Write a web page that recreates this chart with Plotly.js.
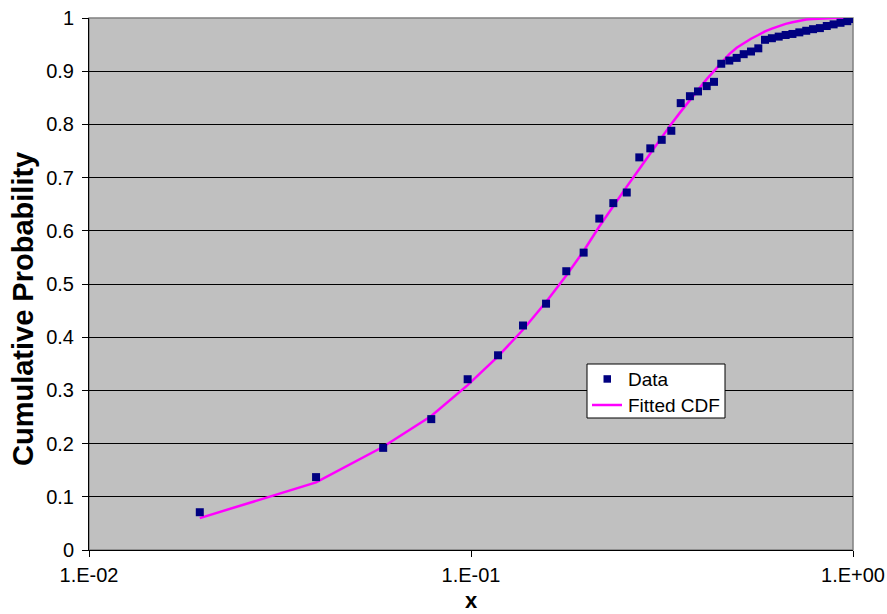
<!DOCTYPE html>
<html>
<head>
<meta charset="utf-8">
<script src="https://cdn.plot.ly/plotly-3.0.1.min.js"></script>
<style>
  html, body { margin: 0; padding: 0; background: #fff; }
  #chart { width: 887px; height: 614px; }
</style>
</head>
<body>
<div id="chart"></div>
<script>
// Sample values (x) with their empirical cumulative probabilities
const xValues = [
  0.0195, 0.0393, 0.0589, 0.0787, 0.0980, 0.1177, 0.1368, 0.1572, 0.1776, 0.1972,
  0.2167, 0.2358, 0.2557, 0.2758, 0.2947, 0.3157, 0.3345, 0.3540, 0.3742, 0.3929,
  0.4140, 0.4326, 0.4520, 0.4744, 0.4960, 0.5174, 0.5408, 0.5651, 0.5883, 0.6133,
  0.6390, 0.6663, 0.6942, 0.7236, 0.7544, 0.7860, 0.8191, 0.8538, 0.8897, 0.9275,
  0.9663, 1.0000
];
const dataProb = [
  0.071, 0.137, 0.192, 0.246, 0.321, 0.366, 0.422, 0.463, 0.524, 0.559,
  0.623, 0.652, 0.672, 0.738, 0.755, 0.771, 0.788, 0.840, 0.853, 0.862,
  0.872, 0.880, 0.914, 0.920, 0.925, 0.932, 0.937, 0.943, 0.959, 0.962,
  0.965, 0.968, 0.970, 0.973, 0.976, 0.979, 0.981, 0.985, 0.988, 0.991,
  0.994, 0.998
];
// Fitted distribution evaluated at the same x values
const fittedProb = [
  0.060, 0.127, 0.194, 0.252, 0.310, 0.364, 0.414, 0.466, 0.516, 0.562,
  0.608, 0.647, 0.683, 0.716, 0.746, 0.776, 0.801, 0.824, 0.846, 0.866,
  0.885, 0.900, 0.915, 0.932, 0.944, 0.953, 0.961, 0.968, 0.975, 0.980,
  0.985, 0.989, 0.992, 0.995, 0.997, 0.998, 0.999, 0.9995, 1.000, 1.000,
  1.000, 1.000
];
const yTickVals = [0, 0.1, 0.2, 0.3, 0.4, 0.5, 0.6, 0.7, 0.8, 0.9, 1];
const yTickText = ["0", "0.1", "0.2", "0.3", "0.4", "0.5", "0.6", "0.7", "0.8", "0.9", "1"];
const xTickVals = [0.01, 0.1, 1];
const xTickText = ["1.E-02", "1.E-01", "1.E+00"];
const seriesNames = ["Data", "Fitted CDF"];

const FONT = "Liberation Sans, Arial, sans-serif";
const W = 887, H = 614;
const M = { l: 89, r: 34, t: 18, b: 64 };
const plotW = W - M.l - M.r, plotH = H - M.t - M.b;
// pixel -> paper helpers for the legend box and the axis titles
const px = v => (v - M.l) / plotW;
const py = v => (H - M.b - v) / plotH;

const MARKER_COLOR = "#000080";
const LINE_COLOR = "#FF00FF";

const traces = [
  {
    x: xValues, y: fittedProb, type: "scatter", mode: "lines",
    name: seriesNames[1], showlegend: false,
    line: { color: LINE_COLOR, width: 2.5 }
  },
  {
    x: xValues, y: dataProb, type: "scatter", mode: "markers",
    name: seriesNames[0], showlegend: false,
    marker: { symbol: "square", size: 8, color: MARKER_COLOR, line: { width: 0 } }
  }
];

// Legend box drawn in paper space
const legendBox = { x0: 587, y0: 364, x1: 725, y1: 418 };
const shapes = [
  {
    type: "rect", xref: "paper", yref: "paper", x0: 0, x1: 1, y0: 0, y1: 1,
    line: { color: "#808080", width: 1.5 }, layer: "below"
  },
  {
    type: "rect", xref: "paper", yref: "paper",
    x0: px(legendBox.x0), x1: px(legendBox.x1), y0: py(legendBox.y1), y1: py(legendBox.y0),
    fillcolor: "#FFFFFF", line: { color: "#000", width: 1 }, layer: "above"
  },
  {
    type: "rect", xref: "paper", yref: "paper",
    x0: px(603.5), x1: px(611), y0: py(382.7), y1: py(375.2),
    fillcolor: MARKER_COLOR, line: { width: 0 }, layer: "above"
  },
  {
    type: "line", xref: "paper", yref: "paper",
    x0: px(592), x1: px(622), y0: py(405), y1: py(405),
    line: { color: LINE_COLOR, width: 2.5 }, layer: "above"
  }
];

const annotations = [
  {
    xref: "paper", yref: "paper", x: px(626), y: py(379), xanchor: "left", yanchor: "middle",
    text: seriesNames[0], showarrow: false, font: { family: FONT, size: 19, color: "#000" }
  },
  {
    xref: "paper", yref: "paper", x: px(626), y: py(405), xanchor: "left", yanchor: "middle",
    text: seriesNames[1], showarrow: false, font: { family: FONT, size: 19, color: "#000" }
  },
  {
    xref: "paper", yref: "paper", x: px(23), y: py(309), xanchor: "center", yanchor: "middle",
    textangle: -90, text: "<b>Cumulative Probability</b>", showarrow: false,
    font: { family: FONT, size: 29, color: "#000" }
  },
  {
    xref: "paper", yref: "paper", x: px(471), y: py(614), xanchor: "center", yanchor: "bottom",
    text: "<b>x</b>", showarrow: false, borderpad: 0,
    font: { family: FONT, size: 22, color: "#000" }
  }
];

const layout = {
  width: W, height: H,
  margin: { l: M.l, r: M.r, t: M.t, b: M.b, pad: 0 },
  paper_bgcolor: "#FFFFFF",
  plot_bgcolor: "#C0C0C0",
  font: { family: FONT, size: 20, color: "#000" },
  showlegend: false,
  xaxis: {
    type: "log", range: [-2, 0],
    tickvals: xTickVals, ticktext: xTickText,
    ticks: "outside", ticklen: 6, tickcolor: "#000", tickwidth: 1,
    ticklabelstandoff: 1,
    showgrid: false, zeroline: false,
    showline: true, linecolor: "#000", linewidth: 1,
    tickfont: { family: FONT, size: 20 }
  },
  yaxis: {
    range: [0, 1],
    tickvals: yTickVals, ticktext: yTickText,
    ticks: "outside", ticklen: 6, tickcolor: "#000", tickwidth: 1,
    ticklabelstandoff: 4,
    showgrid: true, gridcolor: "#000", gridwidth: 1,
    zeroline: false,
    showline: true, linecolor: "#000", linewidth: 1,
    tickfont: { family: FONT, size: 20 }
  },
  shapes: shapes,
  annotations: annotations
};

Plotly.newPlot("chart", traces, layout, { staticPlot: true, displayModeBar: false });
</script>
</body>
</html>
